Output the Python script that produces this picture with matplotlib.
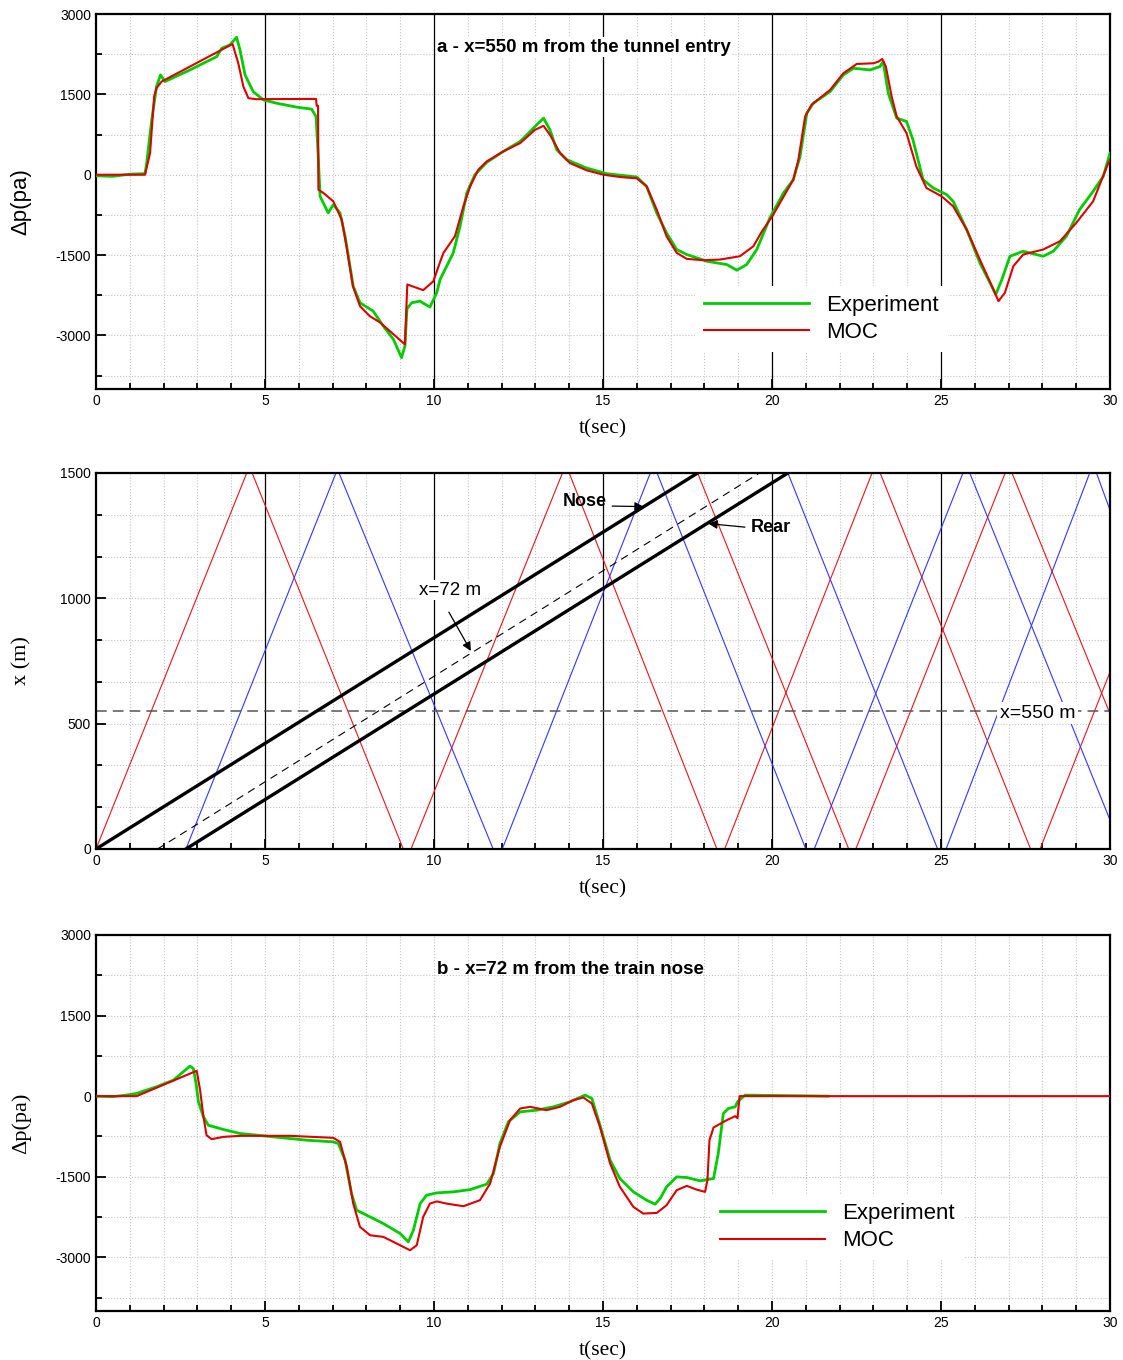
import matplotlib
matplotlib.use("Agg")
import matplotlib.pyplot as plt
from matplotlib.ticker import MultipleLocator

plt.rcParams["font.family"] = ["Liberation Sans", "DejaVu Sans"]
plt.rcParams["axes.unicode_minus"] = False

# ---- panel a: x=550 m from the tunnel entry ----
a_moc_t = [0, 1.45, 1.6, 1.72, 1.79, 1.94, 4.04, 4.21, 4.36, 4.51, 4.75, 6.51, 6.53, 6.57, 6.58,
           6.73, 7.02, 7.27, 7.41, 7.6, 7.81, 8.1, 8.4, 9.14, 9.21, 9.68, 9.98, 10.17, 10.28, 10.62,
           10.87, 11.07, 11.31, 11.56, 12.05, 12.55, 12.99, 13.24, 13.43, 13.73, 14.02, 14.52,
           15.01, 15.51, 16.0, 16.29, 16.59, 16.88, 17.18, 17.48, 17.97, 18.46, 19.05, 19.45, 19.7,
           20.01, 20.63, 20.78, 20.98, 21.17, 21.72, 22.11, 22.51, 23.0, 23.15, 23.26, 23.37, 23.54,
           23.69, 23.98, 24.27, 24.57, 25.02, 25.36, 25.76, 26.15, 26.55, 26.7, 26.89, 27.14, 27.43,
           28.02, 28.52, 29.0, 29.5, 29.95, 30]
a_moc_p = [0, 0, 404, 1459, 1615, 1739, 2440, 2080, 1646, 1428, 1410, 1415, 1285, 1285, -279,
           -342, -497, -838, -1335, -2080, -2453, -2640, -2756, -3167, -2049, -2155, -1990, -1646,
           -1459, -1149, -590, -217, 93, 248, 435, 590, 838, 913, 745, 404, 217, 81, 0, -43, -68,
           -217, -652, -1149, -1459, -1571, -1596, -1584, -1522, -1335, -1060, -776, -93, 279, 1087,
           1304, 1584, 1894, 2068, 2080, 2111, 2161, 2018, 1459, 1087, 776, 155, -248, -403, -590,
           -1025, -1584, -2142, -2360, -2204, -1708, -1490, -1397, -1242, -900, -497, 217, 280]
a_exp_t = [0, 0.5, 1.0, 1.45, 1.5, 1.65, 1.79, 1.91, 2.04, 2.78, 3.57, 3.72, 3.96, 4.16, 4.26,
           4.41, 4.65, 4.95, 5.34, 5.94, 6.38, 6.51, 6.57, 6.63, 6.87, 7.02, 7.22, 7.37, 7.61, 7.81,
           8.2, 8.5, 8.8, 9.04, 9.14, 9.2, 9.34, 9.58, 9.88, 10.08, 10.18, 10.57, 10.77, 10.97,
           11.21, 11.56, 12.05, 12.55, 12.99, 13.24, 13.43, 13.63, 13.93, 14.52, 15.11, 16.0, 16.29,
           16.59, 16.88, 17.18, 17.48, 18.07, 18.66, 18.96, 19.25, 19.55, 19.94, 20.34, 20.63,
           20.83, 21.03, 21.22, 21.72, 22.11, 22.41, 22.9, 23.19, 23.29, 23.44, 23.69, 23.98, 24.17,
           24.47, 24.77, 25.17, 25.36, 25.76, 26.15, 26.45, 26.62, 26.8, 27.04, 27.43, 28.02, 28.32,
           28.71, 29.1, 29.5, 29.8, 30]
a_exp_p = [-20, -30, 10, 20, 217, 1025, 1646, 1863, 1739, 1956, 2204, 2360, 2422, 2565, 2329,
           1863, 1552, 1397, 1335, 1261, 1224, 1087, 404, -403, -714, -559, -714, -1149, -2080,
           -2391, -2546, -2826, -3074, -3415, -3198, -2500, -2391, -2360, -2470, -2204, -1956,
           -1459, -963, -341, 0, 230, 435, 621, 900, 1056, 838, 466, 279, 124, 19, -43, -217, -714,
           -1087, -1397, -1490, -1615, -1677, -1782, -1677, -1397, -800, -341, -93, 341, 1149,
           1335, 1552, 1863, 1987, 1956, 2018, 2111, 1521, 1056, 994, 652, -93, -248, -373, -497,
           -1025, -1646, -2018, -2236, -1956, -1522, -1429, -1522, -1429, -1149, -652, -311, -31, 400]

# ---- panel b: x=72 m from the train nose ----
b_moc_t = [0, 1.2, 2.98, 3.08, 3.18, 3.27, 3.42, 3.77, 4.26, 5.74, 7.02, 7.22, 7.42, 7.61, 7.81,
           8.11, 8.5, 8.9, 9.29, 9.49, 9.68, 9.88, 10.08, 10.37, 10.87, 11.36, 11.66, 11.95, 12.25,
           12.55, 12.84, 13.33, 13.73, 14.12, 14.42, 14.67, 14.91, 15.21, 15.5, 15.9, 16.19, 16.59,
           16.88, 17.18, 17.48, 17.77, 18.02, 18.09, 18.15, 18.27, 18.66, 18.91, 18.98, 19.04, 30]
b_moc_p = [0, 0, 472, 112, -385, -727, -801, -758, -739, -739, -776, -851, -1317, -2000, -2434,
           -2590, -2620, -2745, -2869, -2776, -2248, -2000, -1960, -2000, -2049, -1937, -1627, -944,
           -447, -230, -199, -261, -199, -75, -25, -137, -571, -1254, -1689, -2062, -2186, -2174,
           -2031, -1751, -1671, -1740, -1782, -1565, -820, -584, -447, -373, -410, 0, 0]
b_exp_t = [0, 0.5, 0.9, 1.2, 1.79, 2.29, 2.58, 2.78, 2.88, 2.96, 3.03, 3.18, 3.32, 3.77, 4.26,
           5.25, 6.23, 7.02, 7.17, 7.37, 7.56, 7.71, 8.01, 8.5, 9.0, 9.24, 9.39, 9.59, 9.78, 10.08,
           10.57, 11.07, 11.56, 11.76, 11.95, 12.2, 12.55, 13.04, 13.53, 14.02, 14.47, 14.67, 14.91,
           15.21, 15.5, 15.9, 16.29, 16.54, 16.69, 16.88, 17.18, 17.48, 17.87, 18.27, 18.41, 18.56,
           18.71, 18.91, 18.98, 19.2, 20.5, 21.66]
b_exp_p = [0, -10, 20, 50, 174, 298, 453, 559, 515, 236, -106, -385, -540, -621, -695, -758,
           -820, -851, -882, -1192, -1813, -2124, -2217, -2372, -2558, -2714, -2496, -2000, -1844,
           -1801, -1782, -1740, -1639, -1441, -882, -478, -292, -261, -199, -106, 19, -43, -540,
           -1192, -1534, -1782, -1937, -2012, -1906, -1689, -1503, -1515, -1577, -1534, -1068, -323,
           -230, -199, -106, 19, 10, 0]

# ---- x-t diagram ----
nose_t, nose_x = [0, 17.8], [0, 1500]
rear_t, rear_x = [2.66, 20.47], [0, 1500]
probe_t, probe_x = [1.82, 19.63], [0, 1500]
red_a_t = [0, 4.46, 4.62, 9.09, 9.32, 13.8, 14.0, 18.37, 18.6, 22.96, 23.2, 27.65, 27.93, 30]
red_a_x = [0, 1500, 1500, 0, 0, 1500, 1500, 0, 0, 1500, 1500, 0, 0, 706]
red_b_t = [17.8, 22.27, 22.48, 26.9, 27.1, 30]
red_b_x = [1500, 0, 0, 1500, 1500, 540]
blue_a_t = [2.66, 7.1, 7.19, 11.75, 12.02, 16.4, 16.6, 21.0, 21.25, 25.65, 25.85, 30]
blue_a_x = [0, 1500, 1500, 0, 0, 1500, 1500, 0, 0, 1500, 1500, 116]
blue_b_t = [20.47, 24.9, 25.15, 29.4, 29.6, 30]
blue_b_x = [1500, 0, 0, 1500, 1500, 1352]
probe_station = 550
vlines_t = [5, 10, 15, 20, 25]

fig = plt.figure(figsize=(11.23, 13.6), dpi=100)
left, width = 96 / 1123, 1014 / 1123
ax1 = fig.add_axes([left, 1 - 389 / 1360, width, 375 / 1360])
ax2 = fig.add_axes([left, 1 - 849 / 1360, width, 376 / 1360])
ax3 = fig.add_axes([left, 1 - 1311 / 1360, width, 376 / 1360])

serif = ["Liberation Serif", "DejaVu Serif"]


def style(ax, yminor):
    ax.set_xlim(0, 30)
    ax.xaxis.set_major_locator(MultipleLocator(5))
    ax.xaxis.set_minor_locator(MultipleLocator(1))
    ax.yaxis.set_minor_locator(MultipleLocator(yminor))
    ax.tick_params(which="both", direction="in", top=False, right=False,
                   labelsize=10, width=1.3, colors="black")
    ax.tick_params(which="major", length=7)
    ax.tick_params(which="minor", length=4)
    ax.grid(which="both", linestyle=":", color="#c4c4c4", linewidth=0.8)
    ax.set_axisbelow(True)
    for s in ax.spines.values():
        s.set_linewidth(1.6)
    ax.set_xlabel("t(sec)", family=serif, fontsize=15.5)
    ax.xaxis.set_label_coords(0.5, -40 / 376, transform=ax.transAxes)
    ax.xaxis.label.set_va("center")
    ax.yaxis.set_label_coords(-65 / 1014, 0.5)


for ax in (ax1, ax3):
    ax.set_ylim(-4000, 3000)
    ax.set_yticks([3000, 1500, 0, -1500, -3000])
    style(ax, 750)

style(ax2, 500 / 3)
ax2.set_ylim(0, 1500)
ax2.set_yticks([0, 500, 1000, 1500])

for ax in (ax1, ax2):
    for v in vlines_t:
        ax.axvline(v, color="black", linewidth=0.9, zorder=1.2)

legend_kw = dict(loc="center left", fontsize=16, handlelength=4.7, handletextpad=0.8,
                 labelspacing=0.3, borderpad=0.4, borderaxespad=0, frameon=True,
                 fancybox=False, edgecolor="none", facecolor="white", framealpha=1)

# panel a
ax1.plot(a_exp_t, a_exp_p, color="#00cc00", linewidth=2.0, label="Experiment", zorder=3)
ax1.plot(a_moc_t, a_moc_p, color="#dd0000", linewidth=1.5, label="MOC", zorder=4)
ax1.text(10.09, 2380, "a - x=550 m from the tunnel entry", fontsize=13.5, fontweight="bold",
         va="center", ha="left", bbox=dict(facecolor="white", edgecolor="none", pad=1), zorder=5)
ax1.set_ylabel("\u0394p(pa)", fontsize=16)
ax1.legend(bbox_to_anchor=(0.591, 0.187), **legend_kw)

# panel x-t
ax2.plot(red_a_t, red_a_x, color="#e8141c", linewidth=0.8, zorder=2)
ax2.plot(red_b_t, red_b_x, color="#e8141c", linewidth=0.8, zorder=2)
ax2.plot(blue_a_t, blue_a_x, color="#3535ff", linewidth=0.8, zorder=2)
ax2.plot(blue_b_t, blue_b_x, color="#3535ff", linewidth=0.8, zorder=2)
ax2.plot(nose_t, nose_x, color="black", linewidth=2.4, zorder=3)
ax2.plot(rear_t, rear_x, color="black", linewidth=2.4, zorder=3)
ax2.plot(probe_t, probe_x, color="black", linewidth=0.8, dashes=(7, 5), zorder=3)
ax2.axhline(probe_station, color="#555555", linewidth=1.1, dashes=(7, 4), zorder=2.5)
ax2.set_ylabel("x (m)", family=serif, fontsize=16)

arrow = dict(arrowstyle="-|>", color="black", linewidth=0.9, mutation_scale=13,
             shrinkA=0, shrinkB=0)
ax2.text(13.82, 1388, "Nose", fontsize=13, fontweight="bold", va="center", ha="left", zorder=6)
ax2.annotate("", xy=(16.2, 1366), xytext=(15.27, 1368), arrowprops=arrow, zorder=6)
ax2.text(19.38, 1284, "Rear", fontsize=13, fontweight="bold", va="center", ha="left", zorder=6)
ax2.annotate("", xy=(18.12, 1298), xytext=(19.2, 1284), arrowprops=arrow, zorder=6)
ax2.text(9.56, 1033, "x=72 m", fontsize=13.5, va="center", ha="left",
         bbox=dict(facecolor="white", edgecolor="none", pad=1), zorder=5)
ax2.annotate("", xy=(11.09, 790), xytext=(10.44, 945), arrowprops=arrow, zorder=6)
ax2.text(26.75, 542, "x=550 m", fontsize=14, va="center", ha="left",
         bbox=dict(facecolor="white", edgecolor="none", pad=2), zorder=5)

# panel b
ax3.plot(b_exp_t, b_exp_p, color="#00cc00", linewidth=2.0, label="Experiment", zorder=3)
ax3.plot(b_moc_t, b_moc_p, color="#dd0000", linewidth=1.5, label="MOC", zorder=4)
ax3.text(10.09, 2350, "b - x=72 m from the train nose", fontsize=13.5, fontweight="bold",
         va="center", ha="left", zorder=5)
ax3.set_ylabel("\u0394p(pa)", family=serif, fontsize=16)
ax3.legend(bbox_to_anchor=(0.607, 0.223), **legend_kw)

fig.savefig("out.png", dpi=100)
